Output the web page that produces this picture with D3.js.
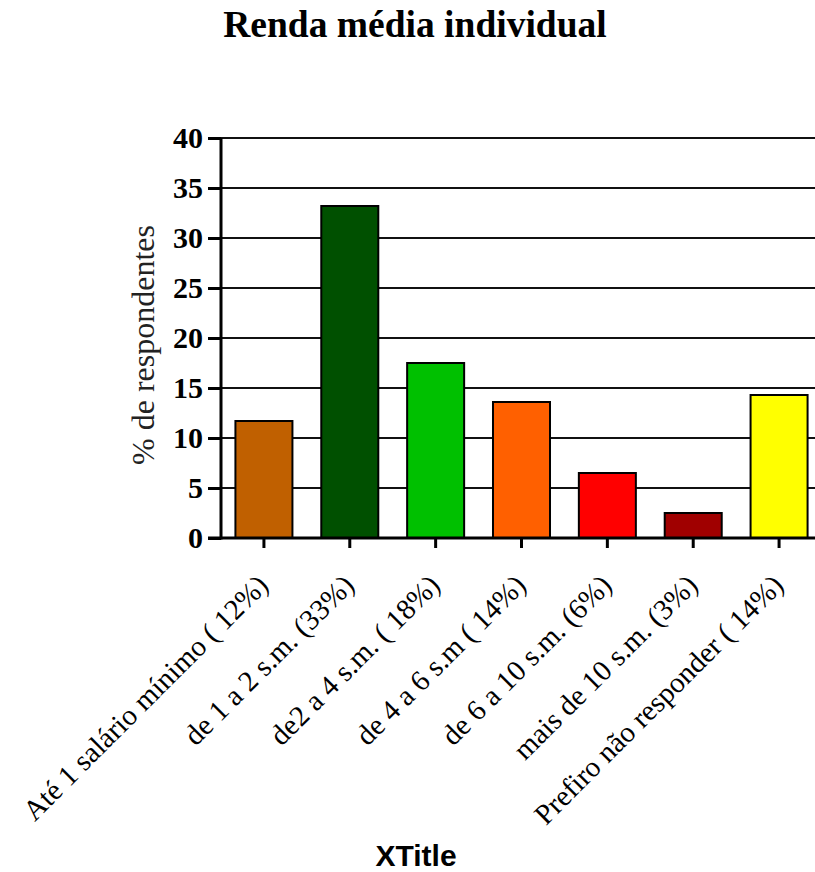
<!DOCTYPE html>
<html>
<head>
<meta charset="utf-8">
<script src="https://cdn.jsdelivr.net/npm/d3@7/dist/d3.min.js"></script>
<style>
  html, body { margin: 0; padding: 0; background: #fff; }
  svg { display: block; }
</style>
</head>
<body>
<svg id="chart" width="815" height="872"></svg>
<script>
// Income brackets and share of respondents (%)
const categories = [
  "Até 1 salário mínimo ( 12%)",
  "de 1 a 2 s.m. (33%)",
  "de2 a 4 s.m. ( 18%)",
  "de 4 a 6 s.m ( 14%)",
  "de 6 a 10 s.m. (6%)",
  "mais de 10 s.m. (3%)",
  "Prefiro não responder ( 14%)"
];
const values = [11.7, 33.2, 17.5, 13.6, 6.5, 2.5, 14.3];
const barColors = ["#C06000", "#005000", "#00C000", "#FF6000", "#FF0000", "#A00000", "#FFFF00"];
const yTicks = [0, 5, 10, 15, 20, 25, 30, 35, 40];

const chartTitle = "Renda média individual";
const yTitle = "% de respondentes";
const xTitle = "XTitle";

const svg = d3.select("#chart");
const serif = "'Liberation Serif', 'Times New Roman', serif";
const sans = "'Liberation Sans', Arial, sans-serif";

const plot = { left: 221, right: 822, top: 138, bottom: 538 };

const x = d3.scaleBand()
  .domain(categories)
  .range([plot.left, plot.right])
  .paddingInner(0.336)
  .paddingOuter(0.168);

const y = d3.scaleLinear()
  .domain([0, 40])
  .range([plot.bottom, plot.top]);

// Title
svg.append("text")
  .attr("x", 415).attr("y", 37)
  .attr("text-anchor", "middle")
  .style("font-family", serif)
  .style("font-weight", "bold")
  .style("font-size", "37.5px")
  .text(chartTitle);

// Horizontal gridlines
svg.append("g")
  .selectAll("line")
  .data(yTicks.filter(d => d > 0))
  .join("line")
  .attr("x1", plot.left).attr("x2", 815)
  .attr("y1", d => y(d)).attr("y2", d => y(d))
  .attr("stroke", "#111")
  .attr("stroke-width", 2);

// Bars
svg.append("g")
  .selectAll("rect")
  .data(values)
  .join("rect")
  .attr("x", (d, i) => x(categories[i]))
  .attr("y", d => y(d))
  .attr("width", x.bandwidth())
  .attr("height", d => y(0) - y(d))
  .attr("fill", (d, i) => barColors[i])
  .attr("stroke", "#000")
  .attr("stroke-width", 2);

// Y axis
const yAxis = svg.append("g")
  .attr("transform", `translate(${plot.left},0)`)
  .call(d3.axisLeft(y).tickValues(yTicks).tickSize(13).tickPadding(5));
yAxis.select(".domain").attr("stroke", "#000").attr("stroke-width", 3)
  .attr("d", `M0,${plot.top}V${plot.bottom + 1.5}`);
yAxis.selectAll(".tick line").attr("stroke", "#000").attr("stroke-width", 3);
yAxis.selectAll(".tick text")
  .style("font-family", serif)
  .style("font-weight", "bold")
  .style("font-size", "30px")
  .attr("fill", "#000");

// X axis
const xAxis = svg.append("g")
  .attr("transform", `translate(0,${plot.bottom})`)
  .call(d3.axisBottom(x).tickSize(10).tickFormat(""));
xAxis.select(".domain").attr("stroke", "#000").attr("stroke-width", 3)
  .attr("d", `M${plot.left - 13},0H815`);
xAxis.selectAll(".tick line").attr("stroke", "#000").attr("stroke-width", 3);

// Rotated category labels
svg.append("g")
  .selectAll("text")
  .data(categories)
  .join("text")
  .attr("transform", d => `translate(${x(d) + x.bandwidth() / 2 + 6},587) rotate(-45)`)
  .attr("text-anchor", "end")
  .style("font-family", serif)
  .style("font-size", "29px")
  .attr("fill", "#000")
  .text(d => d);

// Y axis title
svg.append("text")
  .attr("transform", "translate(154,345) rotate(-90)")
  .attr("text-anchor", "middle")
  .style("font-family", serif)
  .style("font-size", "32px")
  .attr("fill", "#222")
  .text(yTitle);

// X axis title
svg.append("text")
  .attr("x", 416).attr("y", 866)
  .attr("text-anchor", "middle")
  .style("font-family", sans)
  .style("font-weight", "bold")
  .style("font-size", "30px")
  .attr("fill", "#000")
  .text(xTitle);
</script>
</body>
</html>
